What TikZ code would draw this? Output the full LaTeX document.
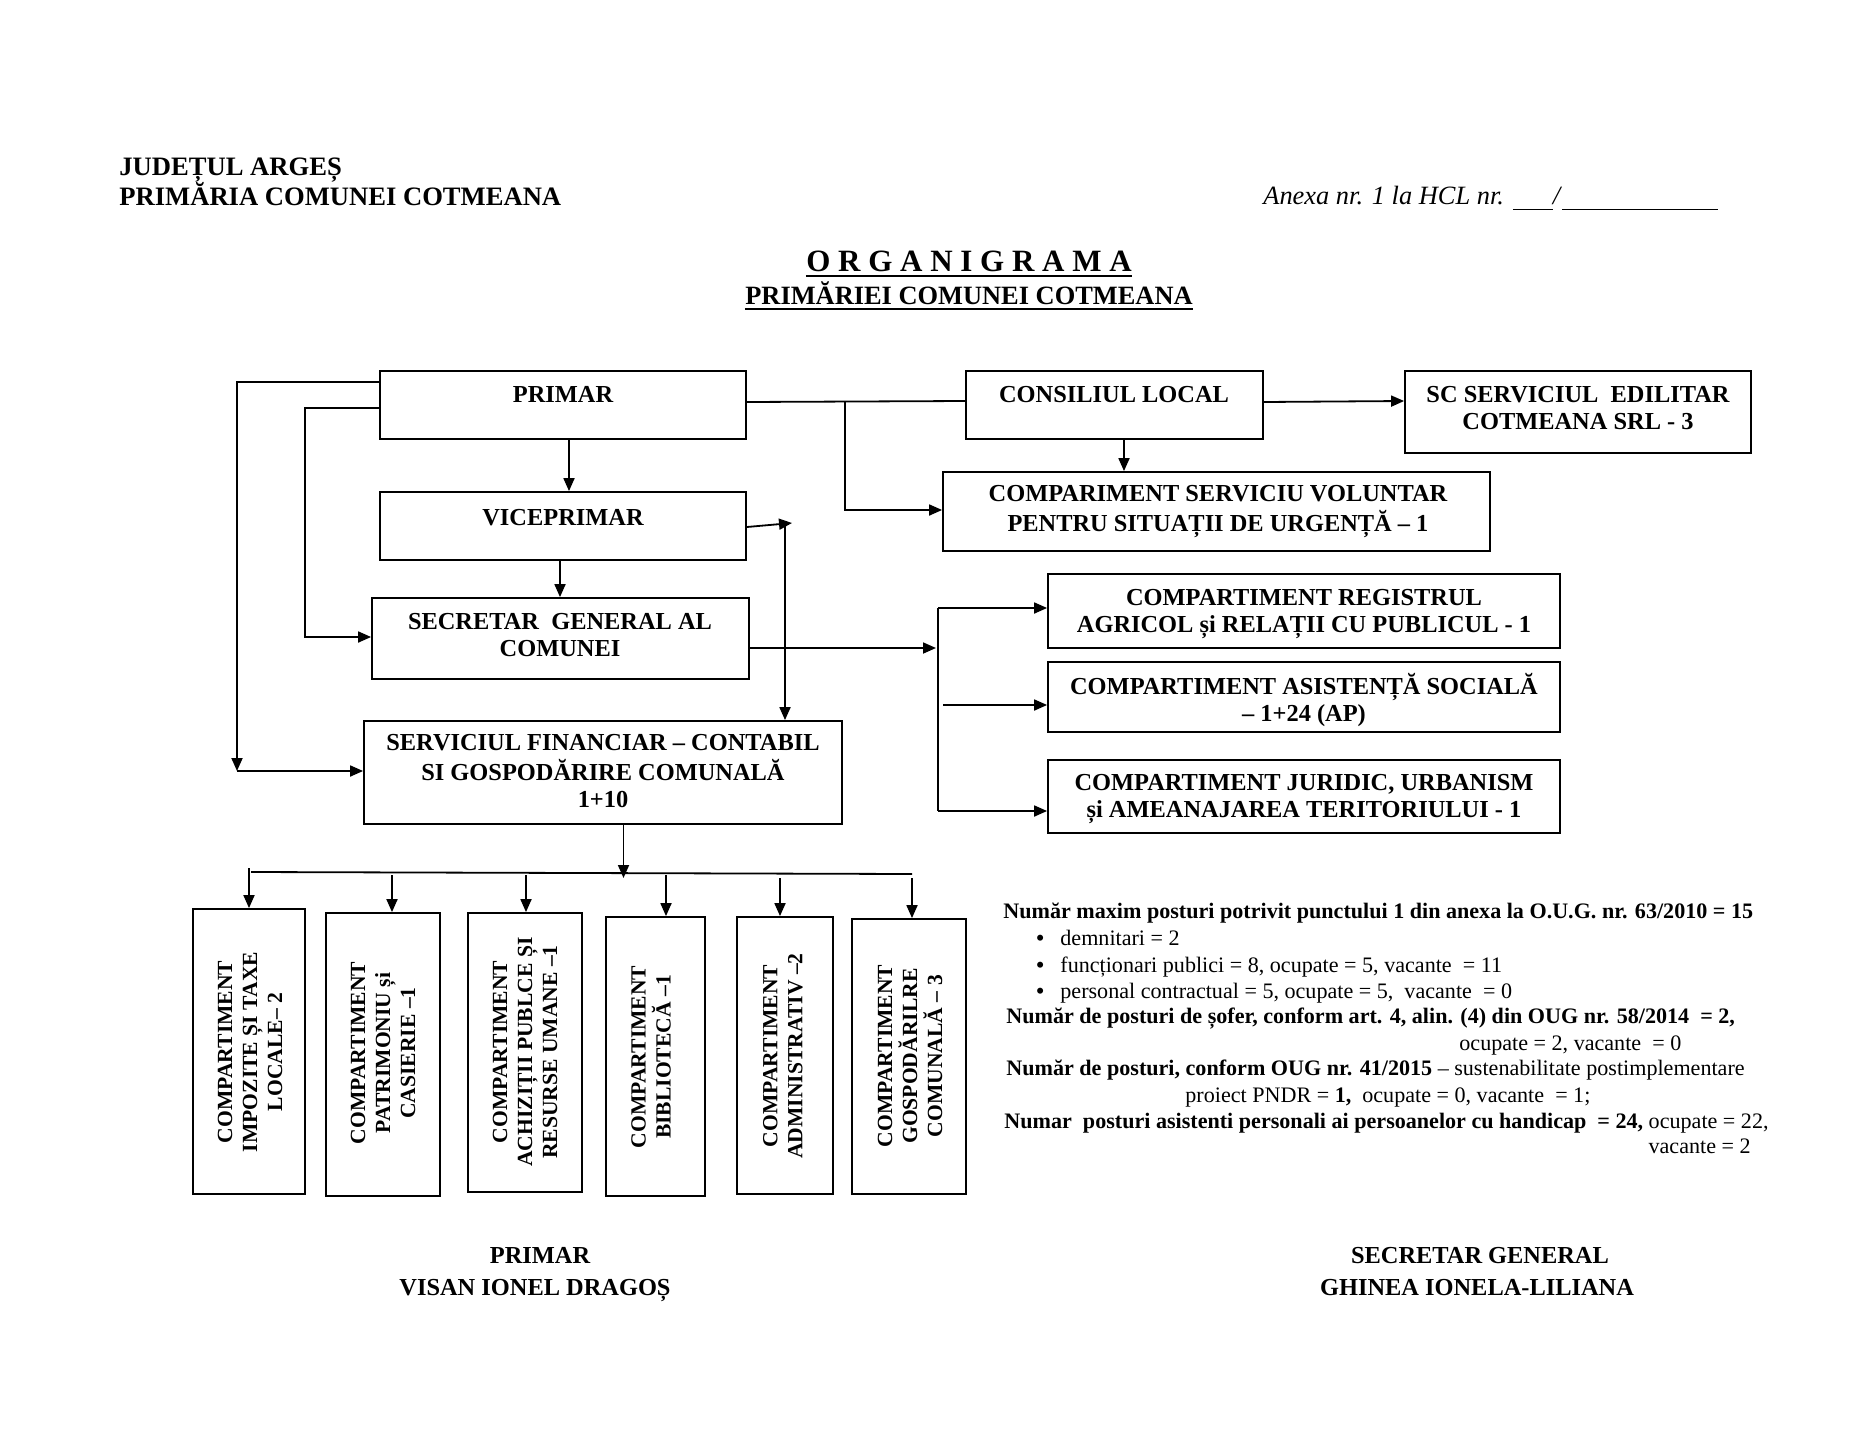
\documentclass[tikz,border=0pt]{standalone}
\usepackage{fontspec}
\setmainfont{Liberation Serif}
\usetikzlibrary{arrows.meta}
\newcommand\mystrut{\rule[-0.25\baselineskip]{0pt}{\baselineskip}}
\newcommand\bx[5]{\node[box, minimum width={(#4-#2)*0.5pt}, minimum height={(#5-#3)*0.5pt}] (#1) at ({(#2+#4)/2},{(#3+#5)/2}) {};}
\begin{document}
\begin{tikzpicture}[x=0.5pt,y=-0.5pt,
 box/.style={draw, line width=0.9pt, inner sep=0},
 btext/.style={font=\fontsize{12.2}{13.5}\selectfont\bfseries, align=center, inner sep=0},
 vtext/.style={font=\fontsize{10.8}{12.5}\selectfont\bfseries, align=center, inner sep=0, rotate=90},
 note/.style={font=\fontsize{11.05}{13}\selectfont, inner sep=0, anchor=base west},
 head/.style={font=\fontsize{13.3}{16}\selectfont\bfseries, inner sep=0, anchor=base west},
 sig/.style={font=\fontsize{12.2}{14}\selectfont\bfseries, inner sep=0, anchor=base},
 conn/.style={line width=0.9pt},
 arr/.style={conn, -{Triangle[length=6.5pt,width=5.5pt]}}
]
\path[use as bounding box, fill=white] (0,0) rectangle (1864,1440);

% header
\node[head] (h1) at (119,175) {JUDEȚUL ARGEȘ};
\node[head] (h2) at (119,205) {PRIMĂRIA COMUNEI COTMEANA};
\node[anchor=base west, inner sep=0, font=\fontsize{13.2}{16}\selectfont\itshape] (anexa) at (1263,204)
  {Anexa nr. 1 la HCL nr. \rule[-3pt]{20pt}{0.6pt}/\hspace{1pt}\rule[-3pt]{78pt}{0.6pt}};
\node[font=\fontsize{15.5}{18}\selectfont\bfseries, inner sep=0, anchor=base] (title) at (969,271) {O R G A N I G R A M A};
\draw[line width=1.4pt] ([yshift=-2.5pt]title.base west) -- ([yshift=-2.5pt]title.base east);
\node[font=\fontsize{13.2}{16}\selectfont\bfseries, inner sep=0, anchor=base] (subtitle) at (969,304) {PRIMĂRIEI COMUNEI COTMEANA};
\draw[line width=1.2pt] ([yshift=-2.5pt]subtitle.base west) -- ([yshift=-2.5pt]subtitle.base east);

% boxes
\bx{primar}{380}{371}{746}{439}
\bx{consiliu}{966}{371}{1263}{439}
\bx{sc}{1405}{371}{1751}{453}
\bx{vice}{380}{492}{746}{560}
\bx{comp}{943}{472}{1490}{551}
\bx{secretar}{372}{598}{749}{679}
\bx{sf}{364}{721}{842}{824}
\bx{registru}{1048}{574}{1560}{648}
\bx{asist}{1048}{662}{1560}{732}
\bx{juridic}{1048}{760}{1560}{833}
\bx{b1}{193}{909}{305}{1194}
\bx{b2}{326}{913}{440}{1196}
\bx{b3}{468}{913}{582}{1192}
\bx{b4}{606}{917}{705}{1196}
\bx{b5}{737}{917}{833}{1194}
\bx{b6}{852}{919}{966}{1194}

% box texts
\node[btext] (primar-t) at (563,396) {\mystrut PRIMAR};
\node[btext] (consiliu-t) at (1114,396) {\mystrut CONSILIUL LOCAL};
\node[btext] (sc-t) at (1578,409) {\mystrut SC SERVICIUL\ \ EDILITAR\\\mystrut COTMEANA SRL - 3};
\node[btext] (vice-t) at (563,519) {\mystrut VICEPRIMAR};
\node[btext] (comp-t) at (1218,510) {\mystrut COMPARIMENT SERVICIU VOLUNTAR\\\mystrut PENTRU SITUAȚII DE URGENȚĂ – 1};
\node[btext] (secretar-t) at (560,636) {\mystrut SECRETAR\ \ GENERAL AL\\\mystrut COMUNEI};
\node[btext] (sf-t) at (603,772) {\mystrut SERVICIUL FINANCIAR – CONTABIL\\\mystrut SI GOSPODĂRIRE COMUNALĂ\\\mystrut 1+10};
\node[btext] (registru-t) at (1304,612) {\mystrut COMPARTIMENT REGISTRUL\\\mystrut AGRICOL și RELAȚII CU PUBLICUL - 1};
\node[btext] (asist-t) at (1304,701) {\mystrut COMPARTIMENT ASISTENȚĂ SOCIALĂ\\\mystrut – 1+24 (AP)};
\node[btext] (juridic-t) at (1304,797) {\mystrut COMPARTIMENT JURIDIC, URBANISM\\\mystrut și AMEANAJAREA TERITORIULUI - 1};

\node[vtext] (b1-t) at (250,1052) {COMPARTIMENT\\IMPOZITE ȘI TAXE\\LOCALE– 2};
\node[vtext] (b2-t) at (383,1053) {COMPARTIMENT\\PATRIMONIU și\\CASIERIE –1};
\node[vtext] (b3-t) at (525,1052) {COMPARTIMENT\\ACHIZIȚII PUBLCE ȘI\\RESURSE UMANE –1};
\node[vtext] (b4-t) at (651,1057) {COMPARTIMENT\\BIBLIOTECĂ –1};
\node[vtext] (b5-t) at (783,1056) {COMPARTIMENT\\ADMINISTRATIV –2};
\node[vtext] (b6-t) at (910,1056) {COMPARTIMENT\\GOSPODĂRILRE\\COMUNALĂ – 3};

% connectors
\coordinate (c1) at (237,771);
\draw[arr] (primar.west |- 0,382) -| (c1);
\draw[arr] (c1) -- (sf.west |- c1);
\coordinate (c2) at (305,637);
\draw[arr] (primar.west |- 0,408) -| (c2) -- (secretar.west |- c2);
\coordinate (c3) at (845,402);
\draw[conn] (primar.east |- c3) -- (consiliu.west |- 0,401);
\draw[arr] (c3) |- (comp.west |- 0,510);
\draw[arr] (primar.south -| 569,0) -- (vice.north -| 569,0);
\coordinate (c4) at (792,523);
\draw[arr] (vice.east |- 0,527) -- (c4);
\coordinate (c5) at (785,522);
\draw[arr] (c5) -- (sf.north -| c5);
\draw[arr] (vice.south -| 560,0) -- (secretar.north -| 560,0);
\draw[arr] (consiliu.east |- 0,402) -- (sc.west |- 0,401);
\draw[arr] (consiliu.south -| 1124,0) -- (comp.north -| 1124,0);
\coordinate (c6) at (936,648);
\draw[arr] (secretar.east |- c6) -- (c6);
\coordinate (v1) at (938,608);
\coordinate (v2) at (938,811);
\coordinate (a1) at (943,705);
\draw[conn] (v1) -- (v2);
\draw[arr] (v1) -- (registru.west |- v1);
\draw[arr] (v2) -- (juridic.west |- v2);
\draw[arr] (a1) -- (asist.west |- a1);
\coordinate (busc) at (623.5,878);
\draw[arr] (sf.south -| busc) -- (busc);
\coordinate (busl) at (251,872);
\coordinate (busr) at (912,874);
\draw[conn] (busl) -- (busr);
\coordinate (d1) at (249,868);
\coordinate (d2) at (392,875);
\coordinate (d3) at (526,875);
\coordinate (d4) at (666,875);
\coordinate (d5) at (780,878);
\coordinate (d6) at (912,878);
\draw[arr] (d1) -- (b1.north -| d1);
\draw[arr] (d2) -- (b2.north -| d2);
\draw[arr] (d3) -- (b3.north -| d3);
\draw[arr] (d4) -- (b4.north -| d4);
\draw[arr] (d5) -- (b5.north -| d5);
\draw[arr] (d6) -- (b6.north -| d6);

% notes
\node[note, font=\fontsize{11.05}{13}\selectfont\bfseries] (n1) at (1003,918) {Număr maxim posturi potrivit punctului 1 din anexa la O.U.G. nr. 63/2010 = 15};
\node[note] (n2) at (1036,945) {\makebox[12pt][l]{\bfseries •}demnitari = 2};
\node[note] (n3) at (1036,972) {\makebox[12pt][l]{\bfseries •}funcționari publici = 8, ocupate = 5, vacante\ \ = 11};
\node[note] (n4) at (1036,998) {\makebox[12pt][l]{\bfseries •}personal contractual = 5, ocupate = 5,\ \ vacante\ \ = 0};
\node[note, font=\fontsize{11.05}{13}\selectfont\bfseries] (n5) at (1006,1023) {Număr de posturi de șofer, conform art. 4, alin. (4) din OUG nr. 58/2014\ \ = 2,};
\node[note] (n6) at (1459,1050) {ocupate = 2, vacante\ \ = 0};
\node[note] (n7) at (1006,1075) {\textbf{Număr de posturi, conform OUG nr. 41/2015} – sustenabilitate postimplementare};
\node[note] (n8) at (1185,1102) {proiect PNDR = \textbf{1,}\ \ ocupate = 0, vacante\ \ = 1;};
\node[note] (n9) at (1004,1128) {\textbf{Numar\ \ posturi asistenti personali ai persoanelor cu handicap\ \ = 24,} ocupate = 22,};
\node[note, anchor=base east] (n10) at (1751,1153) {vacante = 2};

% signatures
\node[sig] (s1) at (540,1263) {PRIMAR};
\node[sig] (s2) at (535,1295) {VISAN IONEL DRAGOȘ};
\node[sig] (s3) at (1480,1263) {SECRETAR GENERAL};
\node[sig] (s4) at (1477,1295) {GHINEA IONELA-LILIANA};
\end{tikzpicture}
\end{document}
